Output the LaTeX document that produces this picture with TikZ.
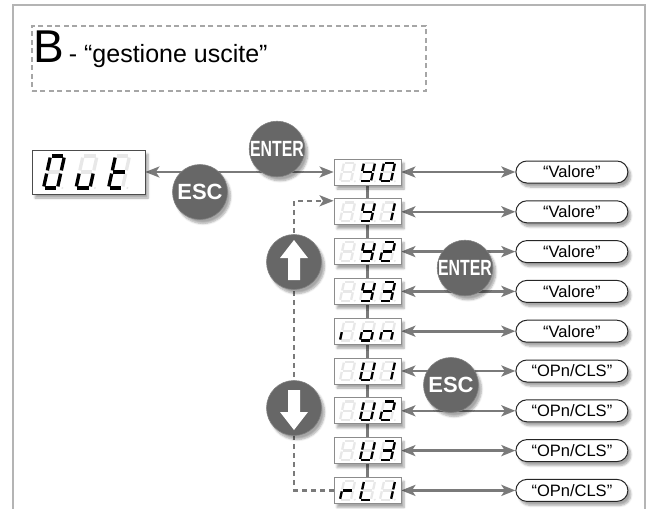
\documentclass[tikz,border=0pt]{standalone}
\usepackage{fontspec}
\setmainfont{Liberation Sans}
\usepackage{graphicx}
\usepackage{tikz}
\usetikzlibrary{arrows.meta, positioning, calc, backgrounds, shadows.blur}

\definecolor{linegray}{RGB}{122,122,122}
\definecolor{btngray}{RGB}{103,103,103}
\definecolor{framegray}{RGB}{180,180,180}
\definecolor{segfaint}{RGB}{232,232,232}

\tikzset{
  sega/.style={insert path={(-.4,1) -- (.4,1)}},
  segb/.style={insert path={(.5,.9) -- (.5,.1)}},
  segc/.style={insert path={(.5,-.1) -- (.5,-.9)}},
  segd/.style={insert path={(-.4,-1) -- (.4,-1)}},
  sege/.style={insert path={(-.5,-.1) -- (-.5,-.9)}},
  segf/.style={insert path={(-.5,.9) -- (-.5,.1)}},
  segg/.style={insert path={(-.4,0) -- (.4,0)}},
  segnone/.style={},
  segoff/.style={draw=segfaint},
  segon/.style={draw=black},
  big digit/.style={x=14pt, y=16pt, line width=3.3pt},
  small digit/.style={x=11pt, y=9.3pt, line width=2.3pt}
}

% one slanted seven-segment digit: position, size, lit segments
\newcommand{\segdigit}[3]{%
  \begin{scope}[shift={#1}, #2, xslant=0.22]
    \foreach \s in {a,b,c,d,e,f,g} \draw[segoff, seg\s];
    \fill[segfaint] (.85,-1) circle[radius=1.1pt];
    \foreach \s in {#3} \draw[segon, seg\s];
  \end{scope}}

% three digits of a display
\newcommand{\segrow}[6]{%
  \segdigit{($(#1)+(-#3,0)$)}{#2}{#4}
  \segdigit{(#1)}{#2}{#5}
  \segdigit{($(#1)+(#3,0)$)}{#2}{#6}}

\begin{document}
\begin{tikzpicture}[
    x=1pt, y=-1pt,
    node distance=13pt and 114pt,
    >={Stealth[length=14pt, width=11pt, inset=3.5pt]},
    softshadow/.style={blur shadow={shadow xshift=3pt, shadow yshift=-4pt, shadow blur steps=6, shadow opacity=35}},
    disp/.style={rectangle, draw=black!45, fill=white, line width=0.8pt, minimum width=67pt, minimum height=26pt, inner sep=0pt, softshadow},
    bigdisp/.style={disp, draw=black!70, minimum width=113pt, minimum height=44pt},
    pill/.style={rectangle, rounded corners=11pt, draw=black!85, fill=white, line width=1pt, minimum width=112pt, minimum height=22pt, inner sep=0pt, font=\fontsize{16.5}{16.5}\selectfont, softshadow},
    btn/.style={circle, fill=btngray, draw=black!50, line width=0.6pt, minimum size=55pt, inner sep=0pt, text=white, font=\bfseries\fontsize{22}{22}\selectfont, softshadow},
    conn/.style={draw=linegray, line width=2.6pt},
    dashed loop/.style={dash pattern=on 5pt off 4pt},
    titlebox/.style={draw=black!35, line width=1.5pt, dash pattern=on 5pt off 3.5pt}
]
\useasboundingbox (0,0) rectangle (651,509);

% frame and title
\draw[framegray, line width=1.2pt] (13,509) |- (645,5) -- (645,509);
\node (title) [titlebox, anchor=north west, minimum width=394pt, minimum height=65pt] at (31,25) {};
\node (caption) [anchor=base west, inner sep=0pt] at (33,62) {{\fontsize{46}{46}\selectfont B}\hspace{5pt}{\fontsize{25}{25}\selectfont - “gestione uscite”}};

% displays
\node (out) [bigdisp] at (88.5,172) {};
\node (y0) [disp] at (367.5,172) {};
\node (y1) [disp, below=of y0] {};
\node (y2) [disp, below=of y1] {};
\node (y3) [disp, below=of y2] {};
\node (ion) [disp, below=of y3] {};
\node (u1) [disp, below=of ion] {};
\node (u2) [disp, below=of u1] {};
\node (u3) [disp, below=of u2] {};
\node (rl1) [disp, below=of u3] {};

% values
\foreach \d in {y0,y1,y2,y3,ion} \node (p\d) [pill, right=of \d] {“Valore”};
\foreach \d in {u1,u2,u3,rl1} \node (p\d) [pill, right=of \d] {“OPn/CLS”};

% keys
\node (enter1) [btn] at (277,149) {\scalebox{0.72}[1]{ENTER}};
\node (esc1) [btn] at (200,192) {ESC};
\node (enter2) [btn] at (465,268) {\scalebox{0.72}[1]{ENTER}};
\node (esc2) [btn] at (451,385) {ESC};
\node (up) [btn] at (294,262) {};
\node (down) [btn] at (294,408) {};
\fill[white, shift={(up.center)}] (0,-22) -- (14,-4) -- (6,-4) -- (6,18) -- (-6,18) -- (-6,-4) -- (-14,-4) -- cycle;
\fill[white, shift={(down.center)}] (0,22) -- (14,4) -- (6,4) -- (6,-18) -- (-6,-18) -- (-6,4) -- (-14,4) -- cycle;

% digits
\coordinate (outdigits) at ([xshift=-2pt]out.center);
\segrow{outdigits}{big digit}{32.5}{a,b,c,d,e,f}{c,d,e}{d,e,f,g}
\segrow{y0}{small digit}{20}{none}{b,c,d,f,g}{a,b,c,d,e,f}
\segrow{y1}{small digit}{20}{none}{b,c,d,f,g}{b,c}
\segrow{y2}{small digit}{20}{none}{b,c,d,f,g}{a,b,g,e,d}
\segrow{y3}{small digit}{20}{none}{b,c,d,f,g}{a,b,g,c,d}
\segrow{ion}{small digit}{20}{e}{c,d,e,g}{c,e,g}
\segrow{u1}{small digit}{20}{none}{b,c,d,e,f}{b,c}
\segrow{u2}{small digit}{20}{none}{b,c,d,e,f}{a,b,g,e,d}
\segrow{u3}{small digit}{20}{none}{b,c,d,e,f}{a,b,g,c,d}
\segrow{rl1}{small digit}{20}{e,g}{d,e,f}{b,c}

% connectors
\begin{scope}[on background layer]
  \draw[conn, <->] (out) -- (y0);
  \draw[conn] (y0) -- (rl1);
  \foreach \d in {y0,y1,y2,y3,ion,u1,u2,u3,rl1} \draw[conn, <->] (\d) -- (p\d);
  \coordinate (loopin) at ([yshift=11pt]y1.west);
  \draw[conn, dashed loop, ->] (rl1.west) -| (down.center) -- (up.center) |- (loopin);
\end{scope}
\end{tikzpicture}
\end{document}
